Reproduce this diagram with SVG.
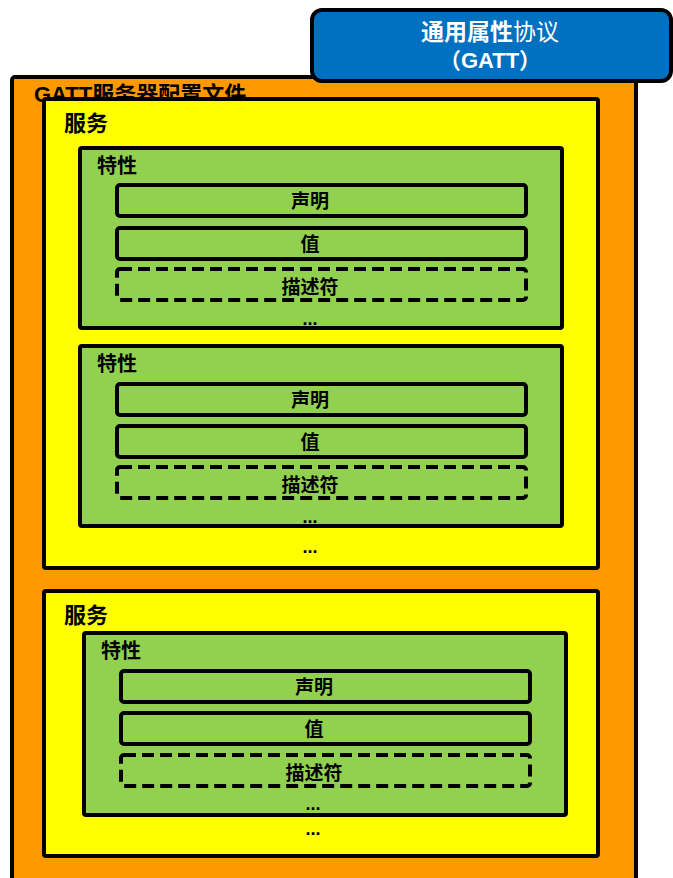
<svg xmlns="http://www.w3.org/2000/svg" width="673" height="878" viewBox="0 0 673 878">
<style>
text{font-family:"Liberation Sans","Noto Sans CJK SC",sans-serif;fill:#000;font-weight:bold}
.s{font-size:22px}
.k{font-size:20px}
.v{font-size:19px;text-anchor:middle}
.box{stroke:#000;stroke-width:4}
.orange{fill:#FF9900}
.yellow{fill:#FFFF00}
.green{fill:#92D050}
.bar{fill:#92D050;stroke:#000;stroke-width:4}
.dash{fill:#92D050;stroke:#000;stroke-width:4;stroke-dasharray:12 6}
.dots{font-size:18px;text-anchor:middle}
</style>
<rect width="673" height="878" fill="#fff"/>
<g id="profile">
<rect class="box orange" x="12" y="77" width="624" height="810" rx="3"/>
<text class="s" x="34" y="102">GATT服务器配置文件</text>
</g>
<g id="gatt">
<rect x="312" y="10" width="359" height="71" rx="10" fill="#0070C0" stroke="#000" stroke-width="4"/>
<text x="490" y="40" text-anchor="middle" style="fill:#fff;font-size:23px"><tspan>通用属性</tspan><tspan font-weight="normal">协议</tspan></text>
<text x="490" y="68" text-anchor="middle" style="fill:#fff;font-size:22px">（GATT）</text>
</g>
<g id="service1">
<rect class="box yellow" x="44" y="99" width="554" height="469" rx="2"/>
<text class="s" x="64" y="131">服务</text>
<text class="dots" x="310" y="553">...</text>
</g>
<g id="char1">
<rect class="box green" x="80" y="148" width="482" height="180" rx="2"/>
<text class="k" x="97" y="173">特性</text>
<rect class="bar" x="117" y="185" width="409" height="31" rx="3"/>
<text class="v" x="310" y="208">声明</text>
<rect class="bar" x="117" y="228" width="409" height="31" rx="3"/>
<text class="v" x="310" y="251">值</text>
<rect class="dash" x="117" y="269" width="409" height="31" rx="3"/>
<text class="v" x="310" y="294">描述符</text>
<text class="dots" x="310" y="325">...</text>
</g>
<g id="char2">
<rect class="box green" x="80" y="346" width="482" height="180" rx="2"/>
<text class="k" x="97" y="371">特性</text>
<rect class="bar" x="117" y="384" width="409" height="31" rx="3"/>
<text class="v" x="310" y="407">声明</text>
<rect class="bar" x="117" y="426" width="409" height="31" rx="3"/>
<text class="v" x="310" y="449">值</text>
<rect class="dash" x="117" y="467" width="409" height="31" rx="3"/>
<text class="v" x="310" y="492">描述符</text>
<text class="dots" x="310" y="523">...</text>
</g>
<g id="service2">
<rect class="box yellow" x="44" y="591" width="554" height="265" rx="2"/>
<text class="s" x="64" y="623">服务</text>
<text class="dots" x="313" y="835">...</text>
</g>
<g id="char3">
<rect class="box green" x="84" y="633" width="482" height="182" rx="2"/>
<text class="k" x="101" y="658">特性</text>
<rect class="bar" x="121" y="671" width="409" height="31" rx="3"/>
<text class="v" x="314" y="694">声明</text>
<rect class="bar" x="121" y="713" width="409" height="31" rx="3"/>
<text class="v" x="314" y="736">值</text>
<rect class="dash" x="121" y="755" width="409" height="31" rx="3"/>
<text class="v" x="314" y="780">描述符</text>
<text class="dots" x="313" y="810">...</text>
</g>
<g id="connectors"></g>
</svg>
